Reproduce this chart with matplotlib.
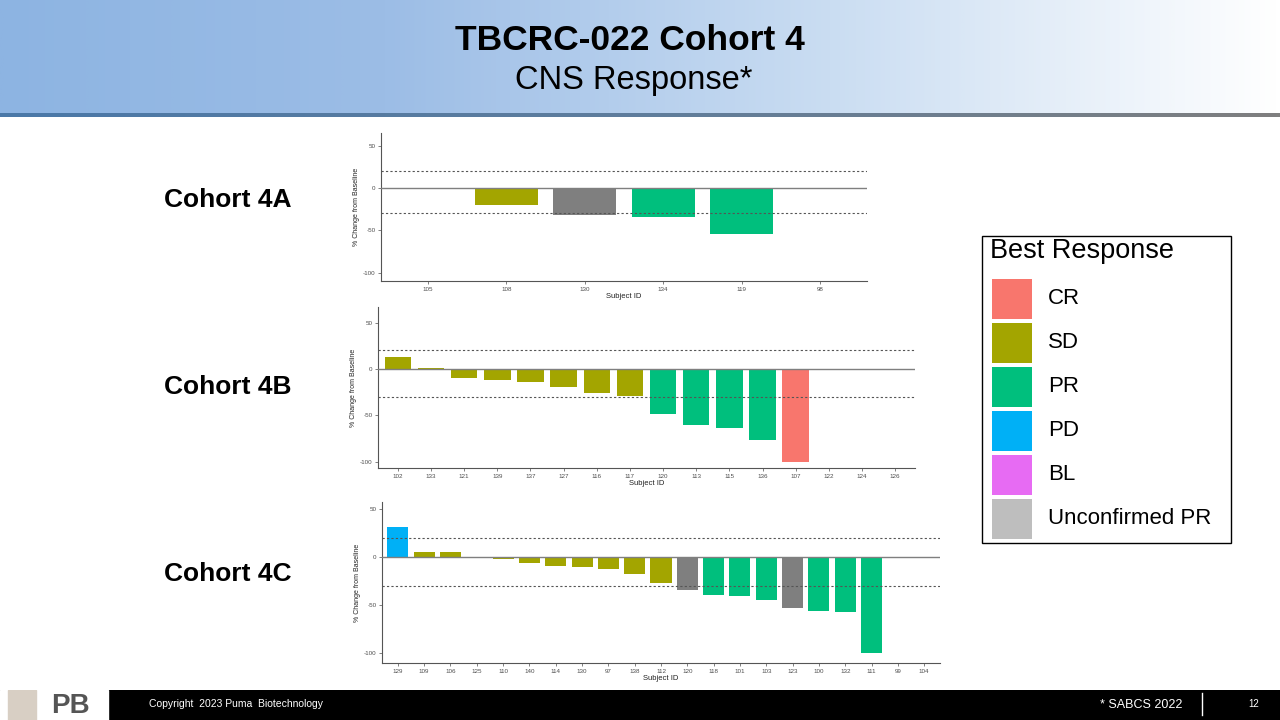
import numpy as np
import matplotlib
matplotlib.use("Agg")
import matplotlib.pyplot as plt
from matplotlib.patches import Rectangle
from matplotlib.colors import LinearSegmentedColormap

# ---------------- data ----------------
ids_4a = ["105", "108", "130", "134", "119", "98"]
vals_4a = [0, -20, -32, -34, -55, 0]
resp_4a = [None, "SD", "Unconfirmed PR", "PR", "PR", None]

ids_4b = ["102", "133", "121", "139", "137", "127", "116", "117", "120",
          "113", "115", "136", "107", "122", "124", "126"]
vals_4b = [13, 1, -10, -12, -14, -19, -26, -29, -49, -60, -64, -77, -100, 0, 0, 0]
resp_4b = ["SD", "SD", "SD", "SD", "SD", "SD", "SD", "SD", "PR",
           "PR", "PR", "PR", "CR", None, None, None]

ids_4c = ["129", "109", "106", "125", "110", "140", "114", "130", "97", "138",
          "112", "120", "118", "101", "103", "123", "100", "132", "111", "99", "104"]
vals_4c = [31, 5, 5, 0, -2, -6, -9, -10, -12, -18, -27, -34, -39, -41, -45,
           -53, -56, -57, -100, 0, 0]
resp_4c = ["PD", "SD", "SD", None, "SD", "SD", "SD", "SD", "SD", "SD",
           "SD", "Unconfirmed PR", "PR", "PR", "PR", "Unconfirmed PR", "PR",
           "PR", "PR", None, None]

legend_labels = ["CR", "SD", "PR", "PD", "BL", "Unconfirmed PR"]
legend_colors = ["#F8766D", "#A3A500", "#00BF7D", "#00B0F6", "#E76BF3", "#BEBEBE"]
bar_colors = {"CR": "#F8766D", "SD": "#A3A500", "PR": "#00BF7D", "PD": "#00B0F6",
              "BL": "#E76BF3", "Unconfirmed PR": "#7F7F7F"}

yticks = [50, 0, -50, -100]
thresholds = [20, -30]

plt.rcParams['font.family'] = ['Liberation Sans', 'DejaVu Sans']
plt.rcParams['axes.unicode_minus'] = False

fig = plt.figure(figsize=(12.8, 7.2), dpi=100)
fig.patch.set_facecolor("white")

# ---------------- header ----------------
hdr = fig.add_axes([0, 1 - 113 / 720, 1, 113 / 720])
hdr.set_axis_off()
cmap = LinearSegmentedColormap.from_list(
    "hdr", [(0, "#8DB4E2"), (0.3, "#9CBDE6"), (0.65, "#CADDF2"), (1.0, "#FFFFFF")])
grad = np.linspace(0, 1, 512).reshape(1, -1)
hdr.imshow(grad, aspect="auto", cmap=cmap, extent=[0, 1, 0, 1])
hdr.set_xlim(0, 1)
hdr.set_ylim(0, 1)

line_ax = fig.add_axes([0, 1 - 117 / 720, 1, 4 / 720])
line_ax.set_axis_off()
cmap2 = LinearSegmentedColormap.from_list("ln", ["#4A78A8", "#5F7D9C", "#7F7F7F"])
line_ax.imshow(grad, aspect="auto", cmap=cmap2, extent=[0, 1, 0, 1])

fig.text(0.492, 1 - 40 / 720, "TBCRC-022 Cohort 4", ha="center", va="center",
         fontsize=25.5, fontweight="bold", color="black")
fig.text(0.495, 1 - 80 / 720, "CNS Response*", ha="center", va="center",
         fontsize=23.5, color="black")

# ---------------- footer ----------------
ft = fig.add_axes([0, 0, 1, 30 / 720])
ft.set_axis_off()
ft.set_xlim(0, 1280)
ft.set_ylim(0, 30)
ft.add_patch(Rectangle((0, 0), 1280, 30, color="black"))
ft.add_patch(Rectangle((0, 0), 108, 30, color="white"))
ft.add_patch(Rectangle((8, 0), 28, 30, color="#D8CFC4"))
ft.text(70, 14, "PB", ha="center", va="center", fontsize=20, fontweight="bold",
        color="#555555")
ft.text(149, 16, "Copyright  2023 Puma  Biotechnology", ha="left", va="center",
        fontsize=7.5, color="white")
ft.text(1182, 15, "* SABCS 2022", ha="right", va="center", fontsize=9, color="white")
ft.plot([1202, 1202], [5, 27], color="white", lw=1)
ft.text(1254, 16, "12", ha="center", va="center", fontsize=7, color="white")

# ---------------- panels ----------------
def panel(rect, ids, vals, resp, ylim):
    ax = fig.add_axes(rect)
    x = np.arange(len(ids))
    cols = [bar_colors[r] if r else "none" for r in resp]
    ax.bar(x, vals, width=0.8, color=cols, edgecolor="none", zorder=2)
    ax.axhline(0, color="#7f7f7f", lw=1.0, zorder=3)
    for t in thresholds:
        ax.axhline(t, color="#555555", lw=0.8, ls=(0, (2, 2)), zorder=3)
    ax.set_xlim(-0.6, len(ids) - 0.4)
    ax.set_ylim(*ylim)
    ax.set_xticks(x)
    ax.set_xticklabels(ids)
    ax.set_yticks(yticks)
    ax.tick_params(axis="both", labelsize=4.5, colors="#4d4d4d", length=2,
                   width=0.5, pad=2)
    for s in ["top", "right"]:
        ax.spines[s].set_visible(False)
    for s in ["left", "bottom"]:
        ax.spines[s].set_color("#555555")
        ax.spines[s].set_linewidth(0.8)
    ax.set_xlabel("Subject ID", fontsize=5.5, labelpad=1, color="#222222")
    ax.set_ylabel("% Change from Baseline", fontsize=5, labelpad=2, color="#222222")
    ax.set_facecolor("white")
    return ax

panel([381 / 1280, 1 - 281 / 720, 486 / 1280, 148 / 720], ids_4a, vals_4a, resp_4a, (-110, 65))
panel([378 / 1280, 1 - 468 / 720, 537 / 1280, 161 / 720], ids_4b, vals_4b, resp_4b, (-107, 67))
panel([382 / 1280, 1 - 663 / 720, 558 / 1280, 161 / 720], ids_4c, vals_4c, resp_4c, (-110, 57))

for lbl, yp in [("Cohort 4A", 200), ("Cohort 4B", 387), ("Cohort 4C", 574)]:
    fig.text(228 / 1280, 1 - yp / 720, lbl, ha="center", va="center",
             fontsize=19, fontweight="bold", color="black")

# ---------------- legend ----------------
lg = fig.add_axes([0, 0, 1, 1])
lg.set_axis_off()
lg.set_xlim(0, 1280)
lg.set_ylim(720, 0)
lg.add_patch(Rectangle((982, 236), 249, 307, facecolor="white", edgecolor="black", lw=1))
lg.text(990, 251, "Best Response", ha="left", va="center", fontsize=19.5, color="black")
for i, (lab, col) in enumerate(zip(legend_labels, legend_colors)):
    yc = 299 + i * 44
    lg.add_patch(Rectangle((992, yc - 20), 40, 40, facecolor=col, edgecolor="none"))
    lg.text(1048, yc, lab, ha="left", va="center", fontsize=16, color="black")

fig.savefig("out.png", dpi=100)
